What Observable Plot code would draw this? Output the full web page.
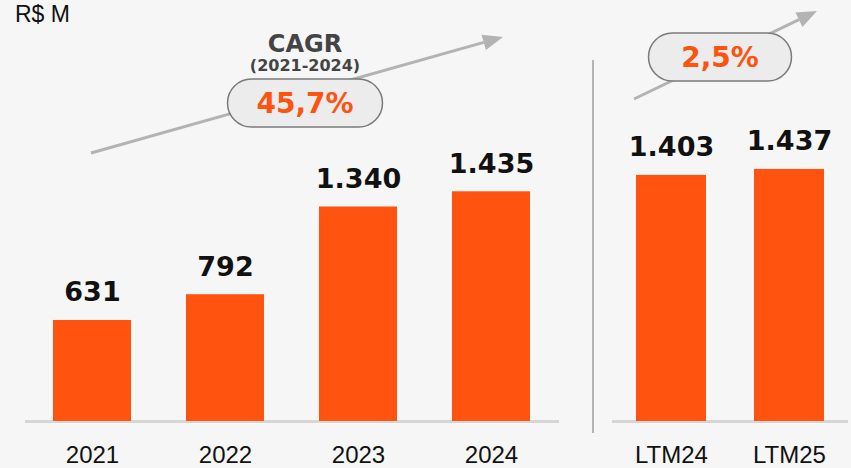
<!DOCTYPE html>
<html>
<head>
<meta charset="utf-8">
<script src="https://cdn.jsdelivr.net/npm/d3@7"></script>
<script src="https://cdn.jsdelivr.net/npm/@observablehq/plot@0.6"></script>
<style>
  html, body { margin: 0; padding: 0; background: #f6f6f6; }
  #wrap { position: relative; width: 851px; height: 468px; overflow: hidden; background: #f6f6f6; }
  #wrap > * { position: absolute; top: 0; }
  #unit { left: 15px; top: 1px; font: 23px "Liberation Sans", Arial, sans-serif; color: #111; }
</style>
</head>
<body>
<div id="wrap">
  <div id="left" style="left:0"></div>
  <div id="right" style="left:590px"></div>
  <svg id="ann" width="851" height="468" style="left:0;top:0"></svg>
  <div id="unit">R$ M</div>
</div>
<script>
// Data
const years = ["2021", "2022", "2023", "2024"];
const yearValues = [631, 792, 1340, 1435];
const ltmLabels = ["LTM24", "LTM25"];
const ltmValues = [1403, 1437];
const cagrTitle = "CAGR";
const cagrPeriod = "(2021-2024)";
const cagrValue = "45,7%";
const ltmGrowth = "2,5%";
const unitLabel = "R$ M";

const BAR = "#ff530f";
const br = d3.formatLocale({decimal: ",", thousands: ".", grouping: [3], currency: ["R$", ""]});
const fmt = br.format(",d");

function panel(cats, vals, opts) {
  const data = cats.map((c, i) => ({cat: c, value: vals[i]}));
  return Plot.plot({
    width: opts.width, height: 468,
    marginTop: 0, marginBottom: 47, marginLeft: opts.ml, marginRight: opts.mr,
    style: {background: "transparent", fontFamily: "Liberation Sans, Arial, sans-serif", overflow: "visible"},
    x: {domain: cats, paddingInner: 0.41, paddingOuter: 0.2, axis: null},
    y: {domain: [0, opts.ymax], axis: null},
    marks: [
      Plot.ruleY([0], {stroke: "#d6d6d6", strokeWidth: 3}),
      Plot.barY(data, {x: "cat", y: "value", fill: BAR}),
      Plot.text(data, {x: "cat", y: "value", text: d => fmt(d.value), dy: -19, lineAnchor: "bottom",
        fontSize: 27, fontWeight: "bold", fontFamily: "DejaVu Sans", fill: "#111"}),
      Plot.axisX({tickSize: 0, tickPadding: 24, fontSize: 24, fill: "#111", label: null})
    ]
  });
}

document.getElementById("left").append(panel(years, yearValues, {width: 590, ml: 25, mr: 31, ymax: 2630}));
document.getElementById("right").append(panel(ltmLabels, ltmValues, {width: 261, ml: 22, mr: 3, ymax: 2400}));
document.getElementById("unit").textContent = unitLabel;

// Annotations
const svg = d3.select("#ann");
// separator
svg.append("line").attr("x1", 593).attr("x2", 593).attr("y1", 60).attr("y2", 433)
  .attr("stroke", "#b4b4b4").attr("stroke-width", 2);

function arrow(x1, y1, x2, y2) {
  const a = Math.atan2(y2 - y1, x2 - x1);
  const L = 20, W = 8;
  const bx = x2 - L * Math.cos(a), by = y2 - L * Math.sin(a);
  svg.append("line").attr("x1", x1).attr("y1", y1).attr("x2", bx).attr("y2", by)
    .attr("stroke", "#b3b3b3").attr("stroke-width", 3);
  const px = -Math.sin(a) * W, py = Math.cos(a) * W;
  svg.append("polygon").attr("points", `${x2},${y2} ${bx + px},${by + py} ${bx - px},${by - py}`)
    .attr("fill", "#b3b3b3");
}
function pill(cx, cy, w, h, label) {
  svg.append("rect").attr("x", cx - w / 2).attr("y", cy - h / 2).attr("width", w).attr("height", h)
    .attr("rx", h / 2).attr("fill", "#ececec").attr("stroke", "#7a7a7a").attr("stroke-width", 1.5);
  svg.append("text").attr("x", cx).attr("y", cy + 10).attr("text-anchor", "middle")
    .attr("font-family", "DejaVu Sans").attr("font-weight", "bold").attr("font-size", 28)
    .attr("fill", BAR).text(label);
}

arrow(91, 153, 503, 37);
pill(305, 103, 155, 48, cagrValue);
svg.append("text").attr("x", 305).attr("y", 52).attr("text-anchor", "middle")
  .attr("font-family", "DejaVu Sans").attr("font-weight", "bold").attr("font-size", 24)
  .attr("fill", "#444").text(cagrTitle);
svg.append("text").attr("x", 305).attr("y", 71).attr("text-anchor", "middle")
  .attr("font-family", "DejaVu Sans").attr("font-weight", "bold").attr("font-size", 16)
  .attr("fill", "#444").text(cagrPeriod);

arrow(634, 99, 817, 11);
pill(720, 57, 143, 48, ltmGrowth);
</script>
</body>
</html>
